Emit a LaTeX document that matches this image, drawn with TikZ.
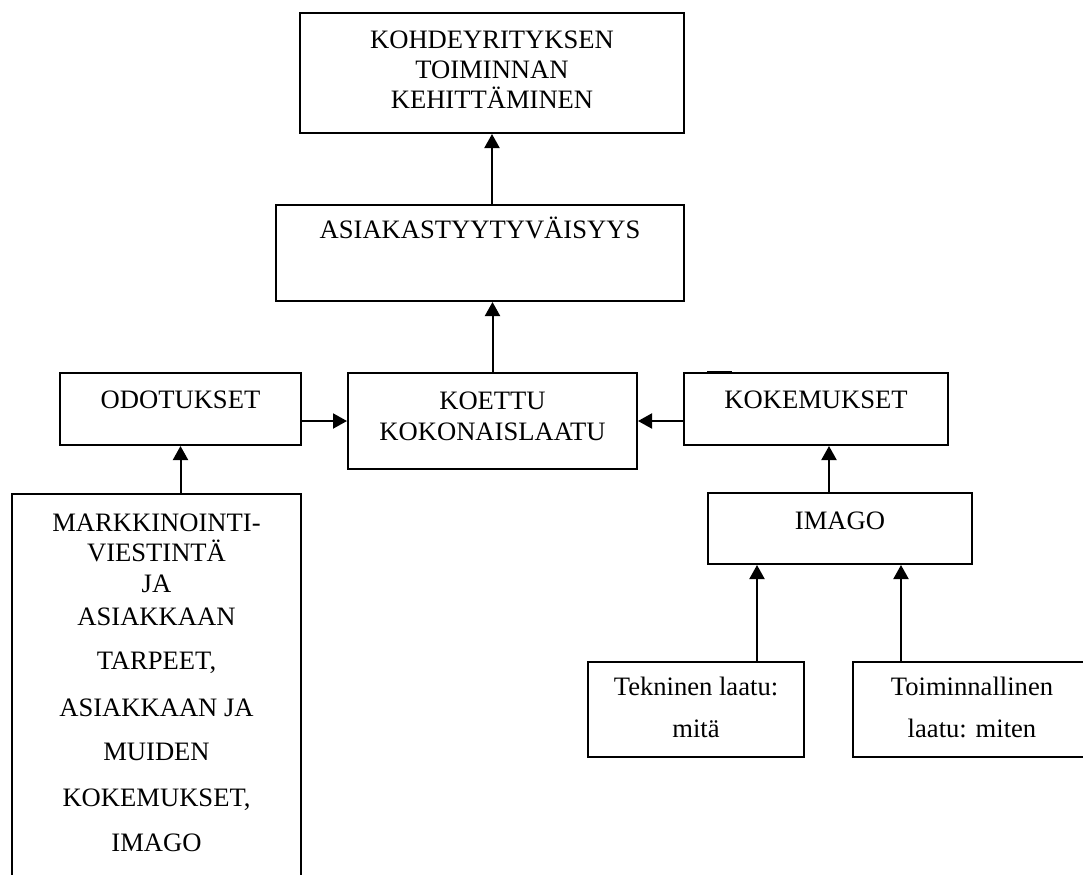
\documentclass[tikz,border=0pt]{standalone}
\usepackage{fontspec}
\setmainfont{Liberation Serif}
\usetikzlibrary{arrows.meta}

\begin{document}
\begin{tikzpicture}[x=0.5pt,y=-0.5pt,
    box/.style={draw, line width=1pt, align=center, inner sep=0pt,
      font=\fontsize{13.3}{15}\selectfont},
    lift/.style={text height=8.6pt, text depth=#1},
    arr/.style={line width=1pt, -{Triangle[length=7pt,width=7.5pt]}}]

  % --- Page frame, same size as the reference ---
  \useasboundingbox (0,0) rectangle (1083,874);

  % --- Upper chain: satisfaction and development ---
  \node[box, minimum width=192pt, minimum height=60pt, text depth=3pt] (kehitys) at (492,73)
    {KOHDEYRITYKSEN\\TOIMINNAN\\KEHITTÄMINEN};
  \node[box, minimum width=204pt, minimum height=48pt, lift=23.6pt] (asiakas) at (480,253)
    {ASIAKASTYYTYVÄISYYS};
  \node[box, minimum width=144.5pt, minimum height=48pt, text depth=5pt] (koettu) at (492.5,421)
    {KOETTU\\[0.5pt]KOKONAISLAATU};

  % --- Left side: expectations ---
  \node[box, minimum width=120.5pt, minimum height=36pt, lift=9.6pt] (odotukset) at (180.5,409)
    {ODOTUKSET};
  \node[box, anchor=north, minimum width=144.5pt, inner ysep=10pt, text depth=45pt] (markkinointi) at (156.5,493)
    {MARKKINOINTI-\\VIESTINTÄ\\[0.5pt]JA\\[1.5pt]ASIAKKAAN\\[7pt]TARPEET,\\[8.5pt]ASIAKKAAN JA\\[7pt]MUIDEN\\[8pt]KOKEMUKSET,\\[7.5pt]IMAGO};

  % --- Right side: experiences ---
  \node[box, minimum width=132pt, minimum height=36pt, lift=9.6pt] (kokemukset) at (816,409)
    {KOKEMUKSET};
  \node[box, minimum width=132pt, minimum height=35.5pt, lift=8.1pt] (imago) at (840,528.5)
    {IMAGO};
  \node[box, minimum width=108pt, minimum height=47.5pt, text depth=2pt] (tekninen) at (696,709.5)
    {Tekninen laatu:\\[6pt]mitä};
  \node[box, minimum width=119pt, minimum height=47.5pt, text depth=2pt] (toiminnallinen) at (972,709.5)
    {Toiminnallinen\\[6pt]laatu: miten};

  % --- small stroke on the top edge of KOKEMUKSET ---
  \draw[line width=1.4pt] ([xshift=12pt]kokemukset.north west) -- ++(25,0);

  % --- Arrows ---
  \draw[arr] (asiakas.north -| kehitys.south) -- (kehitys.south);
  \draw[arr] (koettu.north) -- (koettu.north |- asiakas.south);
  \draw[arr] (koettu.west -| odotukset.east) -- (koettu.west);
  \draw[arr] (koettu.east -| kokemukset.west) -- (koettu.east);
  \draw[arr] (odotukset.south |- markkinointi.north) -- (odotukset.south);
  \draw[arr] ([xshift=-5.5pt]imago.north) -- ([xshift=-5.5pt]imago.north |- kokemukset.south);
  \draw[arr] ([xshift=30.5pt]tekninen.north) -- ([xshift=30.5pt]tekninen.north |- imago.south);
  \draw[arr] ([xshift=-35.5pt]toiminnallinen.north) -- ([xshift=-35.5pt]toiminnallinen.north |- imago.south);

\end{tikzpicture}
\end{document}
